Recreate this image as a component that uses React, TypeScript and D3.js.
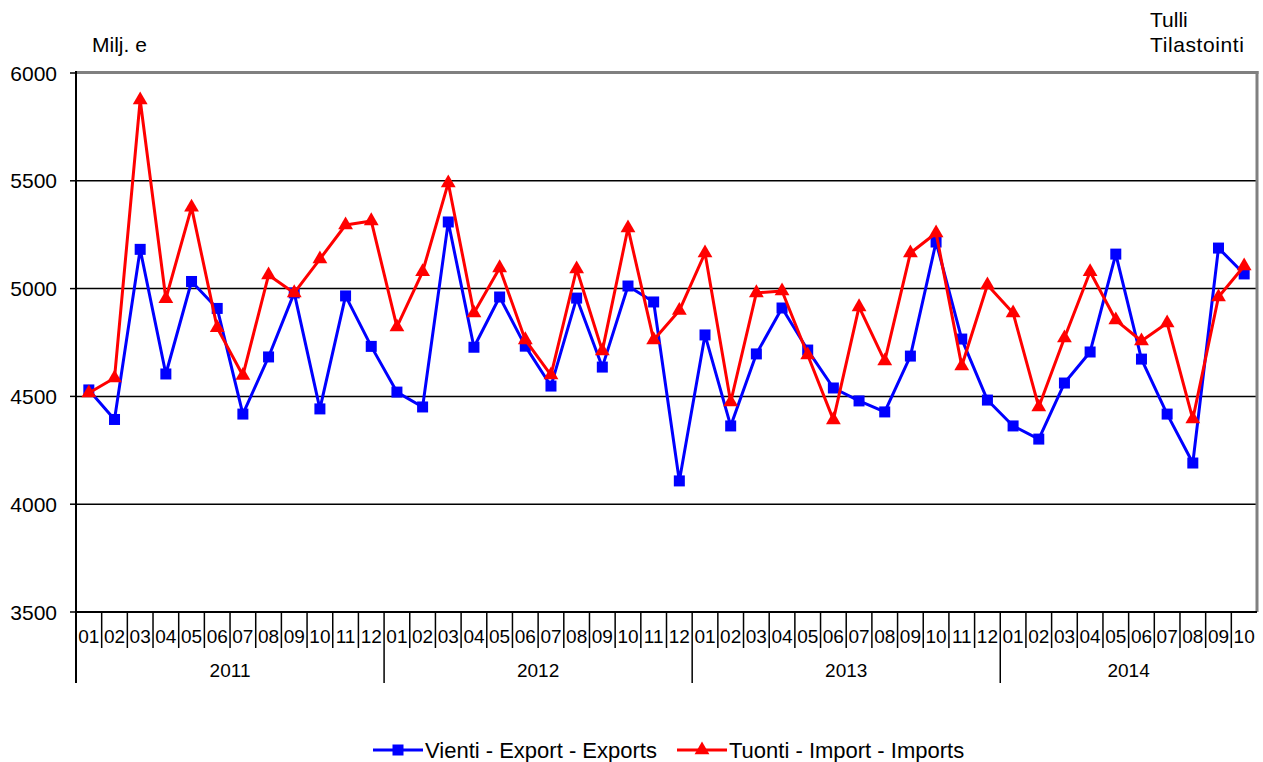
import React from "react";
import * as d3 from "d3";

const years = ["2011", "2012", "2013", "2014"];
const monthsPerYear = [12, 12, 12, 10];
const monthLabels = ["01","02","03","04","05","06","07","08","09","10","11","12"];

const exportsData = [
  4530, 4393, 5182, 4604, 5033, 4908, 4418, 4683, 4980, 4442, 4966, 4732,
  4520, 4451, 5309, 4728, 4961, 4733, 4548, 4956, 4636, 5012, 4938, 4108,
  4785, 4363, 4697, 4910, 4715, 4539, 4479, 4428, 4687, 5216, 4766, 4483,
  4363, 4302, 4562, 4706, 5160, 4673, 4418, 4191, 5188, 5068,
];
const importsData = [
  4516, 4585, 5875, 4953, 5377, 4818, 4597, 5063, 4980, 5137, 5295, 5314,
  4822, 5078, 5490, 4887, 5096, 4762, 4599, 5091, 4711, 5281, 4762, 4898,
  5165, 4474, 4980, 4989, 4692, 4391, 4915, 4664, 5165, 5258, 4641, 5017,
  4887, 4451, 4771, 5078, 4854, 4757, 4840, 4395, 4961, 5105,
];
const yTicks = [3500, 4000, 4500, 5000, 5500, 6000];
const seriesNames = ["Vienti - Export - Exports", "Tuonti - Import - Imports"];

const W = 1263, H = 762;
const L = 76, R = 1257, T = 73, B = 612;
const FONT = "'Liberation Sans', Arial, sans-serif";

export default function App() {
  const cats: { label: string; year: number }[] = [];
  years.forEach((y, yi) => {
    for (let m = 0; m < monthsPerYear[yi]; m++) cats.push({ label: monthLabels[m], year: yi });
  });
  const idx = cats.map((_, i) => i);
  const x = d3.scaleBand<number>().domain(idx).range([L, R]).padding(0);
  const y = d3.scaleLinear().domain([3500, 6000]).range([B, T]);
  const cx = (i: number) => (x(i) as number) + x.bandwidth() / 2;

  const line = d3.line<number>().x((_, i) => cx(i)).y((d) => y(d));
  const tri = d3.symbol().type(d3.symbolTriangle).size(95)() as string;

  const yearStarts: number[] = [];
  let acc = 0;
  monthsPerYear.forEach((n) => { yearStarts.push(acc); acc += n; });

  return (
    <svg width={W} height={H} style={{ position: "absolute", left: 0, top: 0, background: "#fff" }} fontFamily={FONT}>
      {yTicks.filter((t) => t !== 3500 && t !== 6000).map((t) => (
        <line key={t} x1={L} x2={R} y1={y(t)} y2={y(t)} stroke="#000" strokeWidth={1.5} />
      ))}
      <line x1={L} x2={R + 1.5} y1={T - 0.5} y2={T - 0.5} stroke="#808080" strokeWidth={3} />
      <line x1={R} x2={R} y1={T - 2} y2={B} stroke="#808080" strokeWidth={3} />
      {yTicks.map((t) => (
        <g key={"yt" + t}>
          <line x1={70} x2={L} y1={y(t)} y2={y(t)} stroke="#000" strokeWidth={1.5} />
          <text x={57} y={y(t) + 7.5} textAnchor="end" fontSize={21} fill="#000">{t}</text>
        </g>
      ))}
      <line x1={L} x2={R} y1={B} y2={B} stroke="#000" strokeWidth={2} />
      <line x1={L} x2={L} y1={T - 2} y2={683} stroke="#000" strokeWidth={2} />
      {cats.map((c, i) => (
        <g key={"m" + i}>
          {i > 0 && !yearStarts.includes(i) && (
            <line x1={x(i) as number} x2={x(i) as number} y1={B} y2={648} stroke="#000" strokeWidth={1.5} />
          )}
          <text x={cx(i)} y={643} textAnchor="middle" fontSize={19} fill="#000">{c.label}</text>
        </g>
      ))}
      {yearStarts.slice(1).map((s) => (
        <line key={"ys" + s} x1={x(s) as number} x2={x(s) as number} y1={B} y2={683} stroke="#000" strokeWidth={1.5} />
      ))}
      {years.map((yr, yi) => {
        const a = x(yearStarts[yi]) as number;
        const b = yi + 1 < years.length ? (x(yearStarts[yi + 1]) as number) : R;
        return (
          <text key={yr} x={(a + b) / 2} y={677} textAnchor="middle" fontSize={19} fill="#000">{yr}</text>
        );
      })}
      <path d={line(exportsData) as string} fill="none" stroke="#0000FF" strokeWidth={3} strokeLinejoin="round" />
      {exportsData.map((d, i) => (
        <rect key={"e" + i} x={cx(i) - 5.5} y={y(d) - 5.5} width={11} height={11} fill="#0000FF" />
      ))}
      <path d={line(importsData) as string} fill="none" stroke="#FF0000" strokeWidth={3} strokeLinejoin="round" />
      {importsData.map((d, i) => (
        <path key={"i" + i} d={tri} transform={`translate(${cx(i)},${y(d)})`} fill="#FF0000" />
      ))}
      <text x={92} y={52} fontSize={21} fill="#000">Milj. e</text>
      <text x={1150} y={27} fontSize={21} fill="#000">Tulli</text>
      <text x={1150} y={52} fontSize={21} fill="#000" letterSpacing={0.6}>Tilastointi</text>
      <g>
        <line x1={373} x2={423} y1={750} y2={750} stroke="#0000FF" strokeWidth={3} />
        <rect x={392.5} y={744.5} width={11} height={11} fill="#0000FF" />
        <text x={425} y={758} fontSize={22} fill="#000">{seriesNames[0]}</text>
        <line x1={677} x2={727} y1={750} y2={750} stroke="#FF0000" strokeWidth={3} />
        <path d={tri} transform="translate(702,750)" fill="#FF0000" />
        <text x={729} y={758} fontSize={22} fill="#000">{seriesNames[1]}</text>
      </g>
    </svg>
  );
}
